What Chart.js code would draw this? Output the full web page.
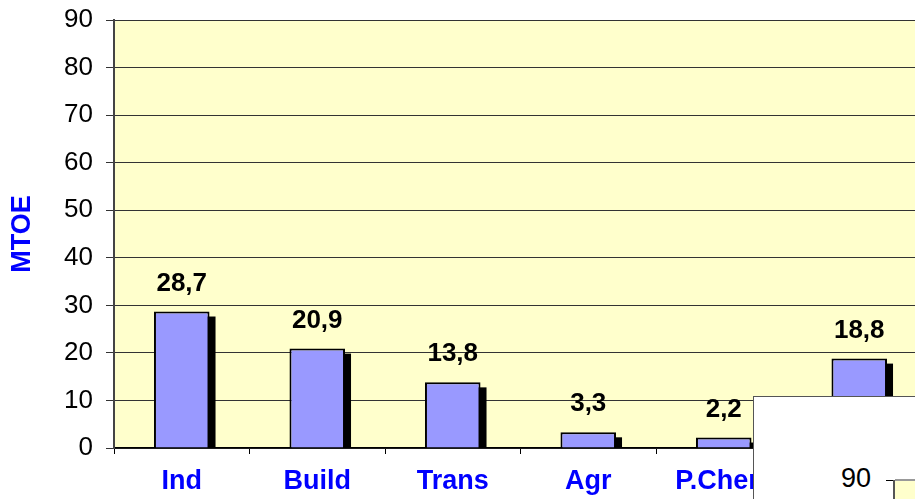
<!DOCTYPE html>
<html>
<head>
<meta charset="utf-8">
<script src="https://cdn.jsdelivr.net/npm/chart.js@4.4.0/dist/chart.umd.min.js"></script>
<style>
  html, body { margin: 0; padding: 0; background: #fff; overflow: hidden; }
  #wrap { position: relative; width: 915px; height: 499px; overflow: hidden; }
  #chart { position: absolute; left: 0; top: 0; }
  /* piece of the next figure pasted over the corner */
  #inset { position: absolute; left: 753px; top: 396px; width: 200px; height: 150px;
           background: #fff; border-left: 1px solid #555; border-top: 1px solid #555; }
  #inset .lbl { position: absolute; left: 87px; top: 68px; font: 27px "Liberation Sans", Arial, sans-serif;
                line-height: 1; color: #000; }
  #inset .tick { position: absolute; left: 132px; top: 83px; width: 8px; height: 1px; background: #000; }
  #inset .axis { position: absolute; left: 139px; top: 83px; width: 2px; height: 100px; background: #555; }
  #inset .plot { position: absolute; left: 141px; top: 82px; width: 100px; height: 100px;
                 background: #FFFFCC; border-top: 2px solid #999; }
</style>
</head>
<body>
<div id="wrap">
  <canvas id="chart" width="935" height="499"></canvas>
  <div id="inset">
    <span class="lbl">90</span>
    <div class="tick"></div>
    <div class="axis"></div>
    <div class="plot"></div>
  </div>
</div>
<script>
// data
const categories = ['Ind', 'Build', 'Trans', 'Agr', 'P.Chem', 'Other'];
const mtoe = [28.7, 20.9, 13.8, 3.3, 2.2, 18.8];
const yMin = 0;
const yMax = 90;
const yStep = 10;

const FONT = '"Liberation Sans", Arial, sans-serif';
Chart.defaults.font.family = FONT;

// yellow plot area
const plotBg = {
  id: 'plotBg',
  beforeDraw(chart) {
    const a = chart.chartArea;
    const ctx = chart.ctx;
    ctx.save();
    ctx.fillStyle = '#FFFFCC';
    ctx.fillRect(a.left, a.top, a.right - a.left, a.bottom - a.top);
    ctx.restore();
  }
};

// black block behind each bar (the 3d look of the original)
const barShadow = {
  id: 'barShadow',
  beforeDatasetsDraw(chart) {
    const a = chart.chartArea;
    const ctx = chart.ctx;
    ctx.save();
    ctx.beginPath();
    ctx.rect(a.left, a.top, a.right - a.left, a.bottom - a.top);
    ctx.clip();
    ctx.fillStyle = '#000';
    chart.getDatasetMeta(0).data.forEach(bar => {
      const p = bar.getProps(['x', 'y', 'base', 'width'], true);
      ctx.fillRect(p.x - p.width / 2 + 6, p.y + 5, p.width, p.base - p.y - 5);
    });
    ctx.restore();
  }
};

// values above bars, decimal comma
const valueLabels = {
  id: 'valueLabels',
  afterDatasetsDraw(chart) {
    const ctx = chart.ctx;
    ctx.save();
    ctx.font = 'bold 26px ' + FONT;
    ctx.fillStyle = '#000';
    ctx.textAlign = 'center';
    ctx.textBaseline = 'alphabetic';
    chart.getDatasetMeta(0).data.forEach((bar, i) => {
      ctx.fillText(mtoe[i].toFixed(1).replace('.', ','), bar.x, bar.y - 21);
    });
    ctx.restore();
  }
};

new Chart(document.getElementById('chart'), {
  type: 'bar',
  data: {
    labels: categories,
    datasets: [{
      data: mtoe,
      backgroundColor: '#9999FF',
      borderColor: '#000',
      borderWidth: 2,
      categoryPercentage: 1,
      barPercentage: 0.41,
      clip: 0
    }]
  },
  options: {
    responsive: false,
    animation: false,
    layout: { padding: { top: 20, right: 8, left: 0, bottom: 0 } },
    plugins: { legend: { display: false }, tooltip: { enabled: false } },
    scales: {
      x: {
        grid: { drawOnChartArea: false, tickLength: 6, color: '#000' },
        border: { color: '#000', width: 1.5 },
        ticks: { color: '#0000FF', font: { size: 27, weight: 'bold' }, padding: 11, maxRotation: 0 },
        afterFit(scale) { scale.height = 51; }
      },
      y: {
        min: yMin,
        max: yMax,
        ticks: { stepSize: yStep, color: '#000', font: { size: 26 }, padding: 13 },
        grid: { color: '#333', tickLength: 8 },
        border: { color: '#444', width: 2 },
        title: {
          display: true,
          text: 'MTOE',
          color: '#0000FF',
          font: { size: 27, weight: 'bold' },
          padding: { top: 6, bottom: 0 }
        },
        afterFit(scale) {
          scale.width = 114;
          // keep the plot top at the layout padding, not pushed down by label overhang
          scale.paddingTop = 0;
          scale.paddingBottom = 0;
        }
      }
    }
  },
  plugins: [plotBg, barShadow, valueLabels]
});
</script>
</body>
</html>
